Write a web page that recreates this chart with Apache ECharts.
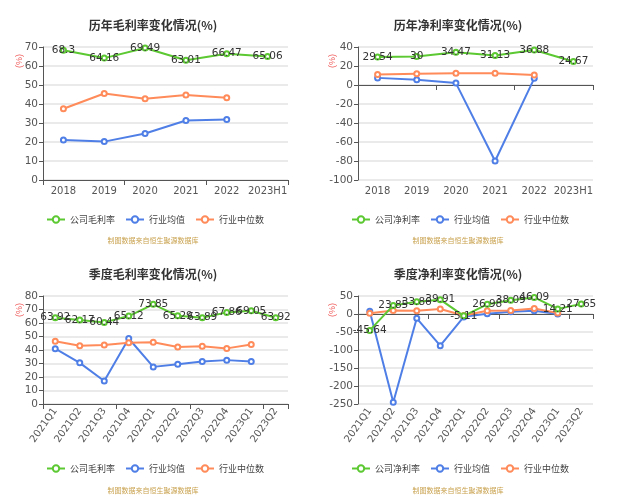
<!DOCTYPE html>
<html><head><meta charset="utf-8">
<script src="https://cdn.jsdelivr.net/npm/echarts@6/dist/echarts.min.js"></script>
<style>html,body{margin:0;padding:0;background:#fff}#c{width:640px;height:496px}</style>
</head><body><div id="c"></div>
<script>
var years = ['2018','2019','2020','2021','2022','2023H1'];
var quarters = ['2021Q1','2021Q2','2021Q3','2021Q4','2022Q1','2022Q2','2022Q3','2022Q4','2023Q1','2023Q2'];

var yearGross = [68.3, 64.16, 69.49, 63.01, 66.47, 65.06];
var yearGrossAvg = [21, 20.2, 24.5, 31.3, 31.8, null];
var yearGrossMed = [37.5, 45.5, 42.8, 44.8, 43.3, null];

var yearNet = [29.54, 30, 34.47, 31.13, 36.88, 24.67];
var yearNetAvg = [7.5, 5.5, 2, -80, 7, null];
var yearNetMed = [11, 11.8, 12.3, 12.3, 10.5, null];

var qGross = [63.92, 62.17, 60.44, 65.12, 73.85, 65.29, 63.89, 67.86, 69.05, 63.92];
var qGrossAvg = [41, 30.5, 17, 48.5, 27.5, 29.5, 31.5, 32.5, 31.5, null];
var qGrossMed = [46.5, 43.2, 43.7, 45.3, 45.7, 42.3, 42.8, 41.2, 44, null];

var qNet = [-45.64, 23.85, 33.86, 39.91, -5.11, 26.98, 38.09, 46.09, 14.21, 27.65];
var qNetAvg = [7.5, -245, -12, -88, -8, 1, 6, 9, 0, null];
var qNetMed = [2, 10, 9, 14, -4, 9, 10, 15, 3, null];

var titles = ['历年毛利率变化情况(%)','历年净利率变化情况(%)','季度毛利率变化情况(%)','季度净利率变化情况(%)'];
var names = [['公司毛利率','行业均值','行业中位数'],['公司净利率','行业均值','行业中位数'],['公司毛利率','行业均值','行业中位数'],['公司净利率','行业均值','行业中位数']];
var yRanges = [[0,70,10],[-100,40,20],[0,80,10],[-250,50,50]];

var GREEN='#5cc832', BLUE='#4f7fe6', ORANGE='#ff8b5a';
var grids = [
  {left:43, top:47, width:245, height:133},
  {left:358, top:47, width:235, height:133},
  {left:43, top:296, width:245, height:108},
  {left:358, top:296, width:235, height:108}
];
var centers = [[148,22,217,237],[453,22,217,237],[148,271,466,487],[453,271,466,487]];
var unitPos = [[20,61],[333,61],[20,310],[333,310]];

var option = {animation:false, title:[], legend:[], grid:[], xAxis:[], yAxis:[], series:[], graphic:[]};
var datasets = [
  [yearGross, yearGrossAvg, yearGrossMed, years],
  [yearNet, yearNetAvg, yearNetMed, years],
  [qGross, qGrossAvg, qGrossMed, quarters],
  [qNet, qNetAvg, qNetMed, quarters]
];
for (var i=0;i<4;i++){
  var g = grids[i], c = centers[i], d = datasets[i], q = i>=2;
  option.title.push({text:titles[i], left:c[0], top:c[1]-8, textAlign:'center',
    textStyle:{fontSize:12, fontWeight:'bold', color:'#333', fontFamily:'Noto Sans CJK SC'}});
  option.title.push({text:'制图数据来自恒生聚源数据库', left:c[0], top:c[3]-5, textAlign:'center',
    textStyle:{fontSize:7, fontWeight:'normal', color:'#c9a24f', fontFamily:'Noto Sans CJK SC'}});
  option.legend.push({data:names[i], left:c[0]-107, top:c[2]-7, itemWidth:18, itemHeight:8, itemGap:10,
    textStyle:{fontSize:9, color:'#444', fontFamily:'Noto Sans CJK SC'}});
  option.grid.push(g);
  var lbl = {fontSize:10, color:'#555', interval:0, margin:6, fontFamily:'DejaVu Sans'};
  if (q) { lbl.rotate = 55; lbl.margin = 5; }
  option.xAxis.push({type:'category', data:d[3], gridIndex:i, boundaryGap:true,
    axisLine:{onZero:true, lineStyle:{color:'#555'}}, axisTick:{show:true, lineStyle:{color:'#555'}},
    axisLabel:{show:false}, splitLine:{show:false}});
  option.xAxis.push({type:'category', data:d[3], gridIndex:i, position:'bottom', boundaryGap:true,
    axisLine:{show:false, onZero:false}, axisTick:{show:false}, axisLabel:lbl, splitLine:{show:false}});
  var r = yRanges[i];
  option.yAxis.push({type:'value', gridIndex:i, min:r[0], max:r[1], interval:r[2],
    axisLine:{show:true, lineStyle:{color:'#555'}}, axisTick:{show:true, length:4, lineStyle:{color:'#555'}},
    axisLabel:{fontSize:10.5, color:'#555', margin:5, fontFamily:'DejaVu Sans'},
    splitLine:{lineStyle:{color:'#e3e3e3', width:1.5}}});
  var cols = [GREEN, BLUE, ORANGE];
  for (var s=0;s<3;s++){
    var ser = {type:'line', name:names[i][s], data:d[s], xAxisIndex:2*i, yAxisIndex:i,
      symbol:'emptyCircle', symbolSize:5, lineStyle:{width:2, color:cols[s]}, itemStyle:{color:cols[s]},
      color:cols[s], z: s===0?5:3};
    if (s===0) ser.label = {show:true, position:'inside', fontSize:10.5, color:'#333', fontFamily:'DejaVu Sans'};
    option.series.push(ser);
  }
  option.graphic.push({type:'text', x:unitPos[i][0], y:unitPos[i][1], rotation:Math.PI/2,
    style:{text:'(%)', fontSize:9, fill:'#f06060', textAlign:'center', textVerticalAlign:'middle'}});
}
var chart = echarts.init(document.getElementById('c'), null, {renderer:'canvas'});
chart.setOption(option);
</script></body></html>
